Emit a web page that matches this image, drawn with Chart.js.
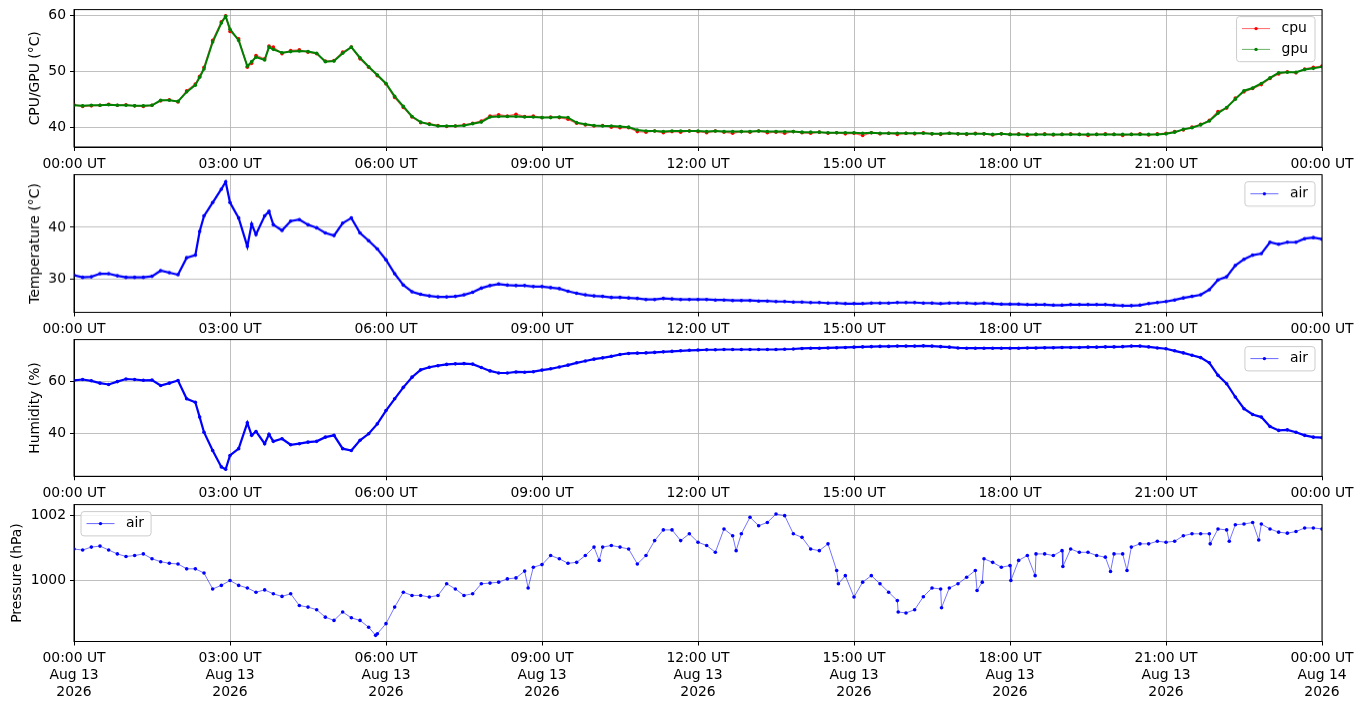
<!DOCTYPE html>
<html>
<head>
<meta charset="utf-8">
<script src="https://cdn.jsdelivr.net/npm/chart.js@4.4.0/dist/chart.umd.min.js"></script>
<style>
  html, body { margin: 0; padding: 0; background: #fff; width: 1363px; height: 707px; overflow: hidden; }
  .panel { position: absolute; left: 0; width: 1363px; }
</style>
</head>
<body>
<div class="panel" style="top:0px;height:171px"><canvas id="cpu-chart"></canvas></div>
<div class="panel" style="top:165px;height:170.5px"><canvas id="temp-chart"></canvas></div>
<div class="panel" style="top:330px;height:170.3px"><canvas id="hum-chart"></canvas></div>
<div class="panel" style="top:495px;height:212px"><canvas id="pres-chart"></canvas></div>
<script>
// samples every 10 minutes, 00:00 UT Aug 13 -> 00:00 UT Aug 14
var STEP = 10;

var cpu = [
  44.1, 43.8, 43.9, 44.0, 44.2, 44.0, 44.1, 43.9, 43.8, 44.0,
  44.8, 45.0, 44.6, 46.6, 47.8, 50.8, 55.6, 58.9, 57.2, 55.9,
  50.8, 52.9, 52.3, 54.4, 53.2, 53.8, 53.9, 53.5, 53.2, 51.9,
  52.0, 53.5, 54.4, 52.3, 50.8, 49.3, 47.8, 45.4, 43.6, 41.9,
  40.9, 40.7, 40.4, 40.2, 40.3, 40.5, 40.8, 41.2, 42.1, 42.3,
  42.1, 42.4, 42.0, 42.1, 41.8, 41.9, 41.8, 41.5, 40.8, 40.5,
  40.3, 40.4, 40.1, 40.0, 40.0, 39.3, 39.2, 39.4, 39.1, 39.3,
  39.2, 39.4, 39.3, 39.1, 39.4, 39.2, 39.0, 39.3, 39.2, 39.4,
  39.1, 39.2, 39.0, 39.3, 39.1, 39.0, 39.2, 39.0, 39.1, 38.9,
  39.0, 38.6, 39.1, 38.9, 39.0, 38.8, 39.0, 38.9, 39.1, 38.9,
  38.8, 39.0, 38.9, 38.8, 39.0, 38.9, 38.7, 38.9, 38.8, 38.9,
  38.6, 38.8, 38.9, 38.7, 38.8, 38.9, 38.8, 38.6, 38.8, 38.9,
  38.8, 38.6, 38.8, 38.9, 38.7, 38.9, 39.0, 39.3, 39.6, 40.1,
  40.6, 41.3, 42.9, 43.5, 45.3, 46.4, 47.0, 47.7, 48.8, 49.6,
  50.0, 49.8, 50.5, 50.8, 51.0
];

var gpu = [
  44.0, 43.9, 44.0, 44.0, 44.1, 44.0, 44.0, 43.9, 43.9, 44.0,
  44.9, 44.9, 44.7, 46.4, 47.6, 50.5, 55.3, 58.7, 57.6, 55.6,
  51.0, 52.6, 52.1, 54.0, 53.4, 53.6, 53.7, 53.6, 53.3, 51.8,
  51.9, 53.3, 54.4, 52.5, 50.9, 49.4, 47.9, 45.6, 43.8, 42.0,
  41.0, 40.6, 40.3, 40.3, 40.3, 40.4, 40.7, 41.0, 41.9, 42.0,
  42.0, 42.0, 41.9, 41.9, 41.8, 41.8, 41.9, 41.8, 40.9, 40.6,
  40.4, 40.3, 40.3, 40.2, 40.1, 39.6, 39.4, 39.4, 39.3, 39.4,
  39.4, 39.4, 39.4, 39.3, 39.4, 39.3, 39.3, 39.3, 39.3, 39.4,
  39.3, 39.3, 39.3, 39.3, 39.2, 39.2, 39.2, 39.1, 39.1, 39.1,
  39.1, 39.0, 39.1, 39.0, 39.0, 39.0, 39.0, 39.0, 39.0, 38.9,
  38.9, 39.0, 38.9, 38.9, 38.9, 38.9, 38.8, 38.9, 38.8, 38.8,
  38.8, 38.8, 38.8, 38.8, 38.8, 38.8, 38.8, 38.8, 38.8, 38.8,
  38.8, 38.8, 38.8, 38.8, 38.8, 38.8, 38.9, 39.2, 39.7, 40.0,
  40.5, 41.2, 42.6, 43.6, 45.1, 46.6, 47.1, 47.9, 48.9, 49.8,
  49.9, 49.9, 50.4, 50.6, 50.9
];

var airTemp = [
  30.7, 30.3, 30.4, 31.0, 31.0, 30.6, 30.3, 30.3, 30.3, 30.5,
  31.6, 31.2, 30.8, 34.1, 34.6, 42.2, 44.8, 47.4, 44.8, 41.8,
  36.3, 38.6, 42.2, 40.5, 39.4, 41.2, 41.5, 40.5, 39.9, 38.9,
  38.4, 40.8, 41.8, 38.9, 37.4, 35.8, 33.7, 31.0, 28.8, 27.5,
  27.0, 26.7, 26.5, 26.5, 26.6, 26.9, 27.4, 28.2, 28.7, 29.0,
  28.8, 28.7, 28.7, 28.5, 28.5, 28.3, 28.1, 27.6, 27.2, 26.9,
  26.7, 26.6, 26.4, 26.4, 26.3, 26.2, 26.0, 26.0, 26.2, 26.1,
  26.0, 26.0, 26.0, 26.0, 25.9, 25.9, 25.8, 25.8, 25.8, 25.7,
  25.7, 25.6, 25.6, 25.5, 25.5, 25.4, 25.4, 25.3, 25.3, 25.2,
  25.2, 25.2, 25.3, 25.3, 25.3, 25.4, 25.4, 25.4, 25.3, 25.3,
  25.2, 25.3, 25.3, 25.3, 25.2, 25.3, 25.2, 25.1, 25.1, 25.1,
  25.0, 25.0, 25.0, 24.9, 24.9, 25.0, 25.0, 25.0, 25.0, 25.0,
  24.9, 24.8, 24.8, 24.9, 25.2, 25.4, 25.6, 25.9, 26.3, 26.6,
  26.9, 27.9, 29.8, 30.4, 32.6, 33.8, 34.6, 34.9, 37.1, 36.7,
  37.1, 37.1, 37.8, 38.0, 37.7
];

var airHum = [
  60.5, 60.8, 60.3, 59.4, 58.9, 60.0, 61.0, 60.8, 60.5, 60.6,
  58.5, 59.4, 60.4, 53.4, 52.1, 40.6, 33.6, 27.3, 31.7, 34.3,
  44.2, 40.9, 36.2, 37.1, 38.1, 35.8, 36.2, 36.8, 37.1, 38.7,
  39.4, 34.3, 33.6, 37.5, 40.0, 43.8, 48.9, 53.4, 57.8, 61.7,
  64.5, 65.5, 66.1, 66.6, 66.8, 66.9, 66.7, 65.4, 64.1, 63.3,
  63.3, 63.7, 63.6, 63.8, 64.4, 64.9, 65.6, 66.3, 67.2, 67.9,
  68.6, 69.1, 69.7, 70.4, 70.8, 70.9, 71.0, 71.2, 71.4, 71.6,
  71.8, 72.0, 72.1, 72.2, 72.2, 72.3, 72.3, 72.3, 72.3, 72.3,
  72.3, 72.3, 72.4, 72.5, 72.7, 72.8, 72.8, 72.9, 73.0, 73.1,
  73.2, 73.3, 73.4, 73.5, 73.5, 73.6, 73.6, 73.6, 73.7, 73.6,
  73.4, 73.2, 72.9, 72.8, 72.8, 72.8, 72.8, 72.8, 72.8, 72.8,
  72.9, 72.9, 73.0, 73.0, 73.1, 73.1, 73.1, 73.2, 73.2, 73.3,
  73.3, 73.4, 73.6, 73.6, 73.3, 72.9, 72.6, 71.8, 71.0, 70.1,
  69.2, 67.2, 62.4, 59.2, 54.1, 49.6, 47.4, 46.4, 42.8, 41.3,
  41.5, 40.6, 39.4, 38.7, 38.5
];

var airPres = [
  1000.97, 1000.94, 1001.03, 1001.06, 1000.94, 1000.82, 1000.74, 1000.77, 1000.82, 1000.67,
  1000.58, 1000.53, 1000.51, 1000.36, 1000.36, 1000.23, 999.74, 999.85, 1000.00, 999.85,
  999.77, 999.64, 999.71, 999.59, 999.51, 999.59, 999.23, 999.18, 999.10, 998.87,
  998.77, 999.03, 998.85, 998.77, 998.56, 998.36, 998.67, 999.18, 999.64, 999.54,
  999.54, 999.49, 999.54, 999.90, 999.74, 999.54, 999.59, 999.90, 999.92, 999.95,
  1000.05, 1000.08, 1000.29, 1000.41, 1000.49, 1000.77, 1000.67, 1000.53, 1000.56, 1000.77,
  1001.03, 1001.03, 1001.08, 1001.03, 1000.97, 1000.51, 1000.77, 1001.23, 1001.56, 1001.56,
  1001.23, 1001.44, 1001.18, 1001.08, 1000.87, 1001.59, 1001.38, 1001.44, 1001.95, 1001.69,
  1001.79, 1002.05, 1002.00, 1001.44, 1001.33, 1000.97, 1000.92, 1001.13, 1000.31, 1000.15,
  999.49, 999.95, 1000.15, 999.90, 999.64, 999.38, 999.00, 999.10, 999.50, 999.77,
  999.74, 999.77, 999.90, 1000.10, 1000.31, 1000.67, 1000.56, 1000.41, 1000.46, 1000.62,
  1000.77, 1000.82, 1000.82, 1000.77, 1000.92, 1000.97, 1000.87, 1000.87, 1000.77, 1000.72,
  1000.82, 1000.82, 1001.03, 1001.13, 1001.13, 1001.21, 1001.18, 1001.21, 1001.38, 1001.44,
  1001.44, 1001.44, 1001.59, 1001.56, 1001.72, 1001.74, 1001.79, 1001.74, 1001.59, 1001.49,
  1001.46, 1001.51, 1001.62, 1001.62, 1001.59
];

// extra readings between the regular samples where the curves turn sharply (minute of day)
var peakMin = [145, 175, 205, 225];
var cpuPeak = [49.2, 60.0, 51.5, 54.6];
var gpuPeak = [49.0, 59.9, 51.8, 54.4];
var tempPeak = [39.2, 48.8, 40.6, 43.1];
var humPeak = [46.4, 26.4, 39.4, 39.8];

// single low readings between the regular samples (minute of day, hPa)
var presDipMin = [348, 524, 606, 764, 882, 951, 1001, 1042, 1048, 1081, 1109, 1141, 1196, 1215, 1311, 1333, 1367];
var presDipVal = [998.31, 999.77, 1000.62, 1000.92, 999.90, 999.03, 999.16, 999.69, 999.95, 1000.00, 1000.15, 1000.43, 1000.28, 1000.31, 1001.13, 1001.21, 1001.25];

var tickTimes = ["00:00 UT", "03:00 UT", "06:00 UT", "09:00 UT", "12:00 UT", "15:00 UT", "18:00 UT", "21:00 UT", "00:00 UT"];
var tickDays = ["Aug 13", "Aug 13", "Aug 13", "Aug 13", "Aug 13", "Aug 13", "Aug 13", "Aug 13", "Aug 14"];
var tickYear = "2026";

var cpuTicks = [40, 50, 60];
var tempTicks = [30, 40];
var humTicks = [40, 60];
var presTicks = [1000, 1002];

Chart.defaults.font.family = "'DejaVu Sans', sans-serif";
Chart.defaults.font.size = 13.9;
Chart.defaults.color = "#000";
Chart.defaults.animation = false;

function merge(points, mins, vals) {
  return points.concat(mins.map(function (m, i) { return { x: m, y: vals[i] }; }))
    .sort(function (a, b) { return a.x - b.x; });
}

function toPoints(values, mins, extra) {
  var pts = values.map(function (v, i) { return { x: i * STEP, y: v }; });
  return mins ? merge(pts, mins, extra) : pts;
}

// black box round the plot area
var framePlugin = {
  id: "frame",
  afterDatasetsDraw: function (chart) {
    var a = chart.chartArea, ctx = chart.ctx;
    ctx.save();
    ctx.strokeStyle = "#000";
    ctx.lineWidth = 1;
    ctx.strokeRect(a.left, a.top, a.right - a.left, a.bottom - a.top);
    ctx.restore();
  }
};

// matplotlib-like legend drawn inside the axes
var boxLegend = {
  id: "boxLegend",
  afterDraw: function (chart, args, opts) {
    if (!opts.items) return;
    var a = chart.chartArea, ctx = chart.ctx;
    ctx.save();
    ctx.font = "13.9px 'DejaVu Sans'";
    var tw = Math.max.apply(null, opts.items.map(function (it) { return ctx.measureText(it.label).width; }));
    var w = 45 + tw + 7, h = 3.5 + opts.items.length * 20.8;
    var x = opts.corner === "left" ? a.left + 7 : a.right - 7 - w;
    var y = a.top + 7;
    ctx.beginPath();
    ctx.roundRect(x, y, w, h, 3);
    ctx.fillStyle = "rgba(255,255,255,0.8)";
    ctx.fill();
    ctx.strokeStyle = "#cccccc";
    ctx.lineWidth = 1;
    ctx.stroke();
    opts.items.forEach(function (it, i) {
      var cy = y + 12 + i * 20.8;
      ctx.strokeStyle = it.line;
      ctx.lineWidth = 1;
      ctx.beginPath();
      ctx.moveTo(x + 5.5, cy);
      ctx.lineTo(x + 33.5, cy);
      ctx.stroke();
      ctx.fillStyle = it.color;
      ctx.beginPath();
      ctx.arc(x + 19.5, cy, 1.7, 0, Math.PI * 2);
      ctx.fill();
      ctx.fillStyle = "#000";
      ctx.textBaseline = "middle";
      ctx.fillText(it.label, x + 45, cy);
    });
    ctx.restore();
  }
};

function makePanel(id, datasets, yMin, yMax, yTicks, title, titlePad, legend, xHeight, withDates) {
  var ctx = document.getElementById(id).getContext("2d");
  return new Chart(ctx, {
    type: "line",
    data: { datasets: datasets },
    plugins: [framePlugin, boxLegend],
    options: {
      responsive: true,
      maintainAspectRatio: false,
      devicePixelRatio: 1,
      layout: { padding: { top: 9.6, right: 41, left: 0, bottom: 0 } },
      elements: { line: { tension: 0 } },
      plugins: {
        legend: { display: false },
        tooltip: { enabled: false },
        title: { display: false },
        boxLegend: legend
      },
      scales: {
        x: {
          type: "linear",
          min: 0,
          max: 1440,
          afterFit: function (axis) {
            axis.height = xHeight;
            axis.paddingLeft = 0;
            axis.paddingRight = 0;
          },
          afterBuildTicks: function (axis) {
            axis.ticks = tickTimes.map(function (t, i) { return { value: i * 180 }; });
          },
          ticks: {
            autoSkip: false,
            maxRotation: 0,
            padding: 5,
            callback: function (v) {
              var k = Math.round(v / 180);
              return withDates ? [tickTimes[k], tickDays[k], tickYear] : tickTimes[k];
            }
          },
          grid: { color: "#b0b0b0", lineWidth: 0.8, tickColor: "#000", tickLength: 4, tickWidth: 1 },
          border: { display: true, color: "#000", width: 1 }
        },
        y: {
          min: yMin,
          max: yMax,
          afterFit: function (axis) {
            axis.width = 74;
            axis.paddingTop = 0;
            axis.paddingBottom = 0;
          },
          afterBuildTicks: function (axis) {
            axis.ticks = yTicks.map(function (v) { return { value: v }; });
          },
          ticks: { padding: 4, callback: function (v) { return String(v); } },
          grid: { color: "#b0b0b0", lineWidth: 0.8, tickColor: "#000", tickLength: 4, tickWidth: 1 },
          border: { display: true, color: "#000", width: 1 },
          title: { display: true, text: title, padding: { top: titlePad, bottom: 0 }, font: { size: 13.9 } }
        }
      }
    }
  });
}

function series(label, points, color, lineColor, lineWidth, order) {
  return {
    label: label,
    data: points,
    borderColor: lineColor,
    borderWidth: lineWidth,
    backgroundColor: color,
    pointBackgroundColor: color,
    pointBorderWidth: 0,
    pointRadius: 1.8,
    order: order
  };
}

// CPU / GPU CHART
makePanel("cpu-chart", [
  series("cpu", toPoints(cpu, peakMin, cpuPeak), "#ff0000", "rgba(255,0,0,0.6)", 1.4, 2),
  series("gpu", toPoints(gpu, peakMin, gpuPeak), "#008000", "#008000", 2, 1)
], 36.55, 61.1, cpuTicks, "CPU/GPU (°C)", 27,
  { corner: "right", items: [
    { label: "cpu", color: "#ff0000", line: "rgba(255,0,0,0.6)" },
    { label: "gpu", color: "#008000", line: "rgba(0,128,0,0.6)" }
  ] }, 24, false);

// TEMPERATURE CHART
makePanel("temp-chart", [
  series("air", toPoints(airTemp, peakMin, tempPeak), "#0000ff", "#0000ff", 2.2, 1)
], 23.5, 50.2, tempTicks, "Temperature (°C)", 27,
  { corner: "right", items: [{ label: "air", color: "#0000ff", line: "rgba(0,0,255,0.6)" }] }, 24, false);

// HUMIDITY CHART
makePanel("hum-chart", [
  series("air", toPoints(airHum, peakMin, humPeak), "#0000ff", "#0000ff", 2.2, 1)
], 23.7, 76.1, humTicks, "Humidity (%)", 27,
  { corner: "right", items: [{ label: "air", color: "#0000ff", line: "rgba(0,0,255,0.6)" }] }, 24, false);

// PRESSURE CHART
makePanel("pres-chart", [
  series("air", toPoints(airPres, presDipMin, presDipVal), "#0000ff", "rgba(0,0,255,0.55)", 1, 1)
], 998.12, 1002.34, presTicks, "Pressure (hPa)", 9,
  { corner: "left", items: [{ label: "air", color: "#0000ff", line: "rgba(0,0,255,0.6)" }] }, 65.5, true);
</script>
</body>
</html>
